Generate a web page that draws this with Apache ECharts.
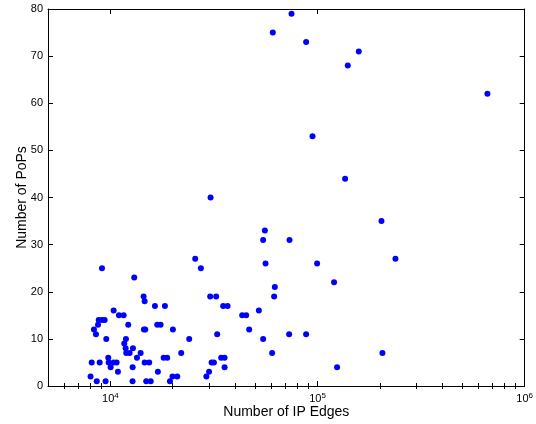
<!DOCTYPE html>
<html>
<head>
<meta charset="utf-8">
<script src="https://cdn.jsdelivr.net/npm/echarts@6/dist/echarts.min.js"></script>
<style>html,body{margin:0;padding:0;background:#fff;}#c{width:536px;height:424px;}</style>
</head>
<body>
<div id="c"></div>
<script>
// Number of IP edges (x) and number of PoPs (y)
const ipEdges = [
  8598, 9483, 12795, 14900, 15660, 19390,
  8025, 19950, 21040, 29080,
  10880, 16960, 29960,
  10030, 12810, 35600, 124300,
  8125, 8880, 9812, 10370, 10720, 14640, 15400, 30810, 31610,
  9769, 13440, 18080, 18810, 34280, 35600,
  11930, 12390, 14000, 21980, 60390, 205800,
  11850, 12850,
  11670,
  9555, 11890, 24020, 54650,
  8521, 32790, 72950, 88100,
  8333, 14520, 14740, 20040, 46780,
  8715, 12200, 16840, 17480,
  8785, 9110, 9388,
  11000, 11590, 43290, 45250,
  10370, 52100,
  16410, 18340, 35050, 36800,
  14640,
  14470, 30330, 32430, 61740,
  62230,
  120200,
  13040,
  9110, 27350,
  56120, 99550,
  25680, 237800,
  54650, 73270,
  55700,
  203600,
  30470,
  135900,
  94600,
  661000,
  140000,
  158200,
  88100,
  60850,
  74920
];
const pops = [
  1, 1, 1, 1, 1, 1,
  2, 2, 2, 2,
  3, 3, 3,
  4, 4, 4, 4,
  5, 5, 5, 5, 5, 5, 5, 5, 5,
  6, 6, 6, 6, 6, 6,
  7, 7, 7, 7, 7, 7,
  8, 8,
  9,
  10, 10, 10, 10,
  11, 11, 11, 11,
  12, 12, 12, 12, 12,
  13, 13, 13, 13,
  14, 14, 14,
  15, 15, 15, 15,
  16, 16,
  17, 17, 17, 17,
  18,
  19, 19, 19, 19,
  21,
  22,
  23,
  25, 25,
  26, 26,
  27, 27,
  31, 31,
  33,
  35,
  40,
  44,
  53,
  62,
  68,
  71,
  73,
  75,
  79
];
const xMajorTicks = [10000, 100000, 1000000];
const xMinorTicks = [6000, 7000, 8000, 9000,
  20000, 30000, 40000, 50000, 60000, 70000, 80000, 90000,
  200000, 300000, 400000, 500000, 600000, 700000, 800000, 900000];
const yTicks = { min: 0, max: 80, step: 10 };

const FONT = '"Liberation Sans", Arial, Helvetica, sans-serif';
const points = ipEdges.map((x, i) => [x, pops[i]]);

function xAx(pos, major, labels, opts) {
  return Object.assign({
    type: 'log', logBase: 10, position: pos, min: 5000, max: 1000000,
    axisLine: { show: true, onZero: false, lineStyle: { color: '#000', width: 1 } },
    axisTick: { show: true, inside: true, length: major ? 5 : 3,
      customValues: major ? xMajorTicks : xMinorTicks,
      lineStyle: { color: '#000', width: 1 } },
    axisLabel: labels ? {
      show: true, customValues: xMajorTicks, margin: 6,
      fontFamily: FONT, color: '#000',
      formatter: v => '{b|10}{s|' + Math.round(Math.log10(v)) + '}',
      rich: { b: { fontSize: 11, fontFamily: FONT, color: '#000', lineHeight: 14 },
              s: { fontSize: 8, fontFamily: FONT, color: '#000', verticalAlign: 'top', lineHeight: 9 } }
    } : { show: false },
    splitLine: { show: false }, minorTick: { show: false }
  }, opts || {});
}

const option = {
  animation: false,
  backgroundColor: '#fff',
  grid: { left: 48, right: 11, top: 9, bottom: 38, show: false },
  xAxis: [
    xAx('bottom', true, true, { name: 'Number of IP Edges', nameLocation: 'middle', nameGap: 19,
      nameMoveOverlap: false,
      nameTextStyle: { fontSize: 14, fontFamily: FONT, color: '#000' } }),
    xAx('bottom', false, false, { axisLine: { show: false } }),
    xAx('top', true, false),
    xAx('top', false, false, { axisLine: { show: false } })
  ],
  yAxis: [
    { type: 'value', position: 'left', min: yTicks.min, max: yTicks.max, interval: yTicks.step,
      name: 'Number of PoPs', nameLocation: 'middle', nameGap: 19, nameRotate: 90,
      nameMoveOverlap: false,
      nameTextStyle: { fontSize: 14, fontFamily: FONT, color: '#000' },
      axisLine: { show: true, onZero: false, lineStyle: { color: '#000', width: 1 } },
      axisTick: { show: true, inside: true, length: 5, lineStyle: { color: '#000' } },
      axisLabel: { fontSize: 11, fontFamily: FONT, color: '#000', margin: 5 },
      splitLine: { show: false } },
    { type: 'value', position: 'right', min: yTicks.min, max: yTicks.max, interval: yTicks.step,
      axisLine: { show: true, onZero: false, lineStyle: { color: '#000', width: 1 } },
      axisTick: { show: true, inside: true, length: 5, lineStyle: { color: '#000' } },
      axisLabel: { show: false }, splitLine: { show: false } }
  ],
  series: [{
    type: 'scatter', xAxisIndex: 0, yAxisIndex: 0,
    data: points, symbol: 'circle', symbolSize: 6,
    itemStyle: { color: '#0000ff', opacity: 1 },
    emphasis: { disabled: true }
  }]
};
const chart = echarts.init(document.getElementById('c'), null, { renderer: 'canvas' });
chart.setOption(option);
</script>
</body>
</html>
